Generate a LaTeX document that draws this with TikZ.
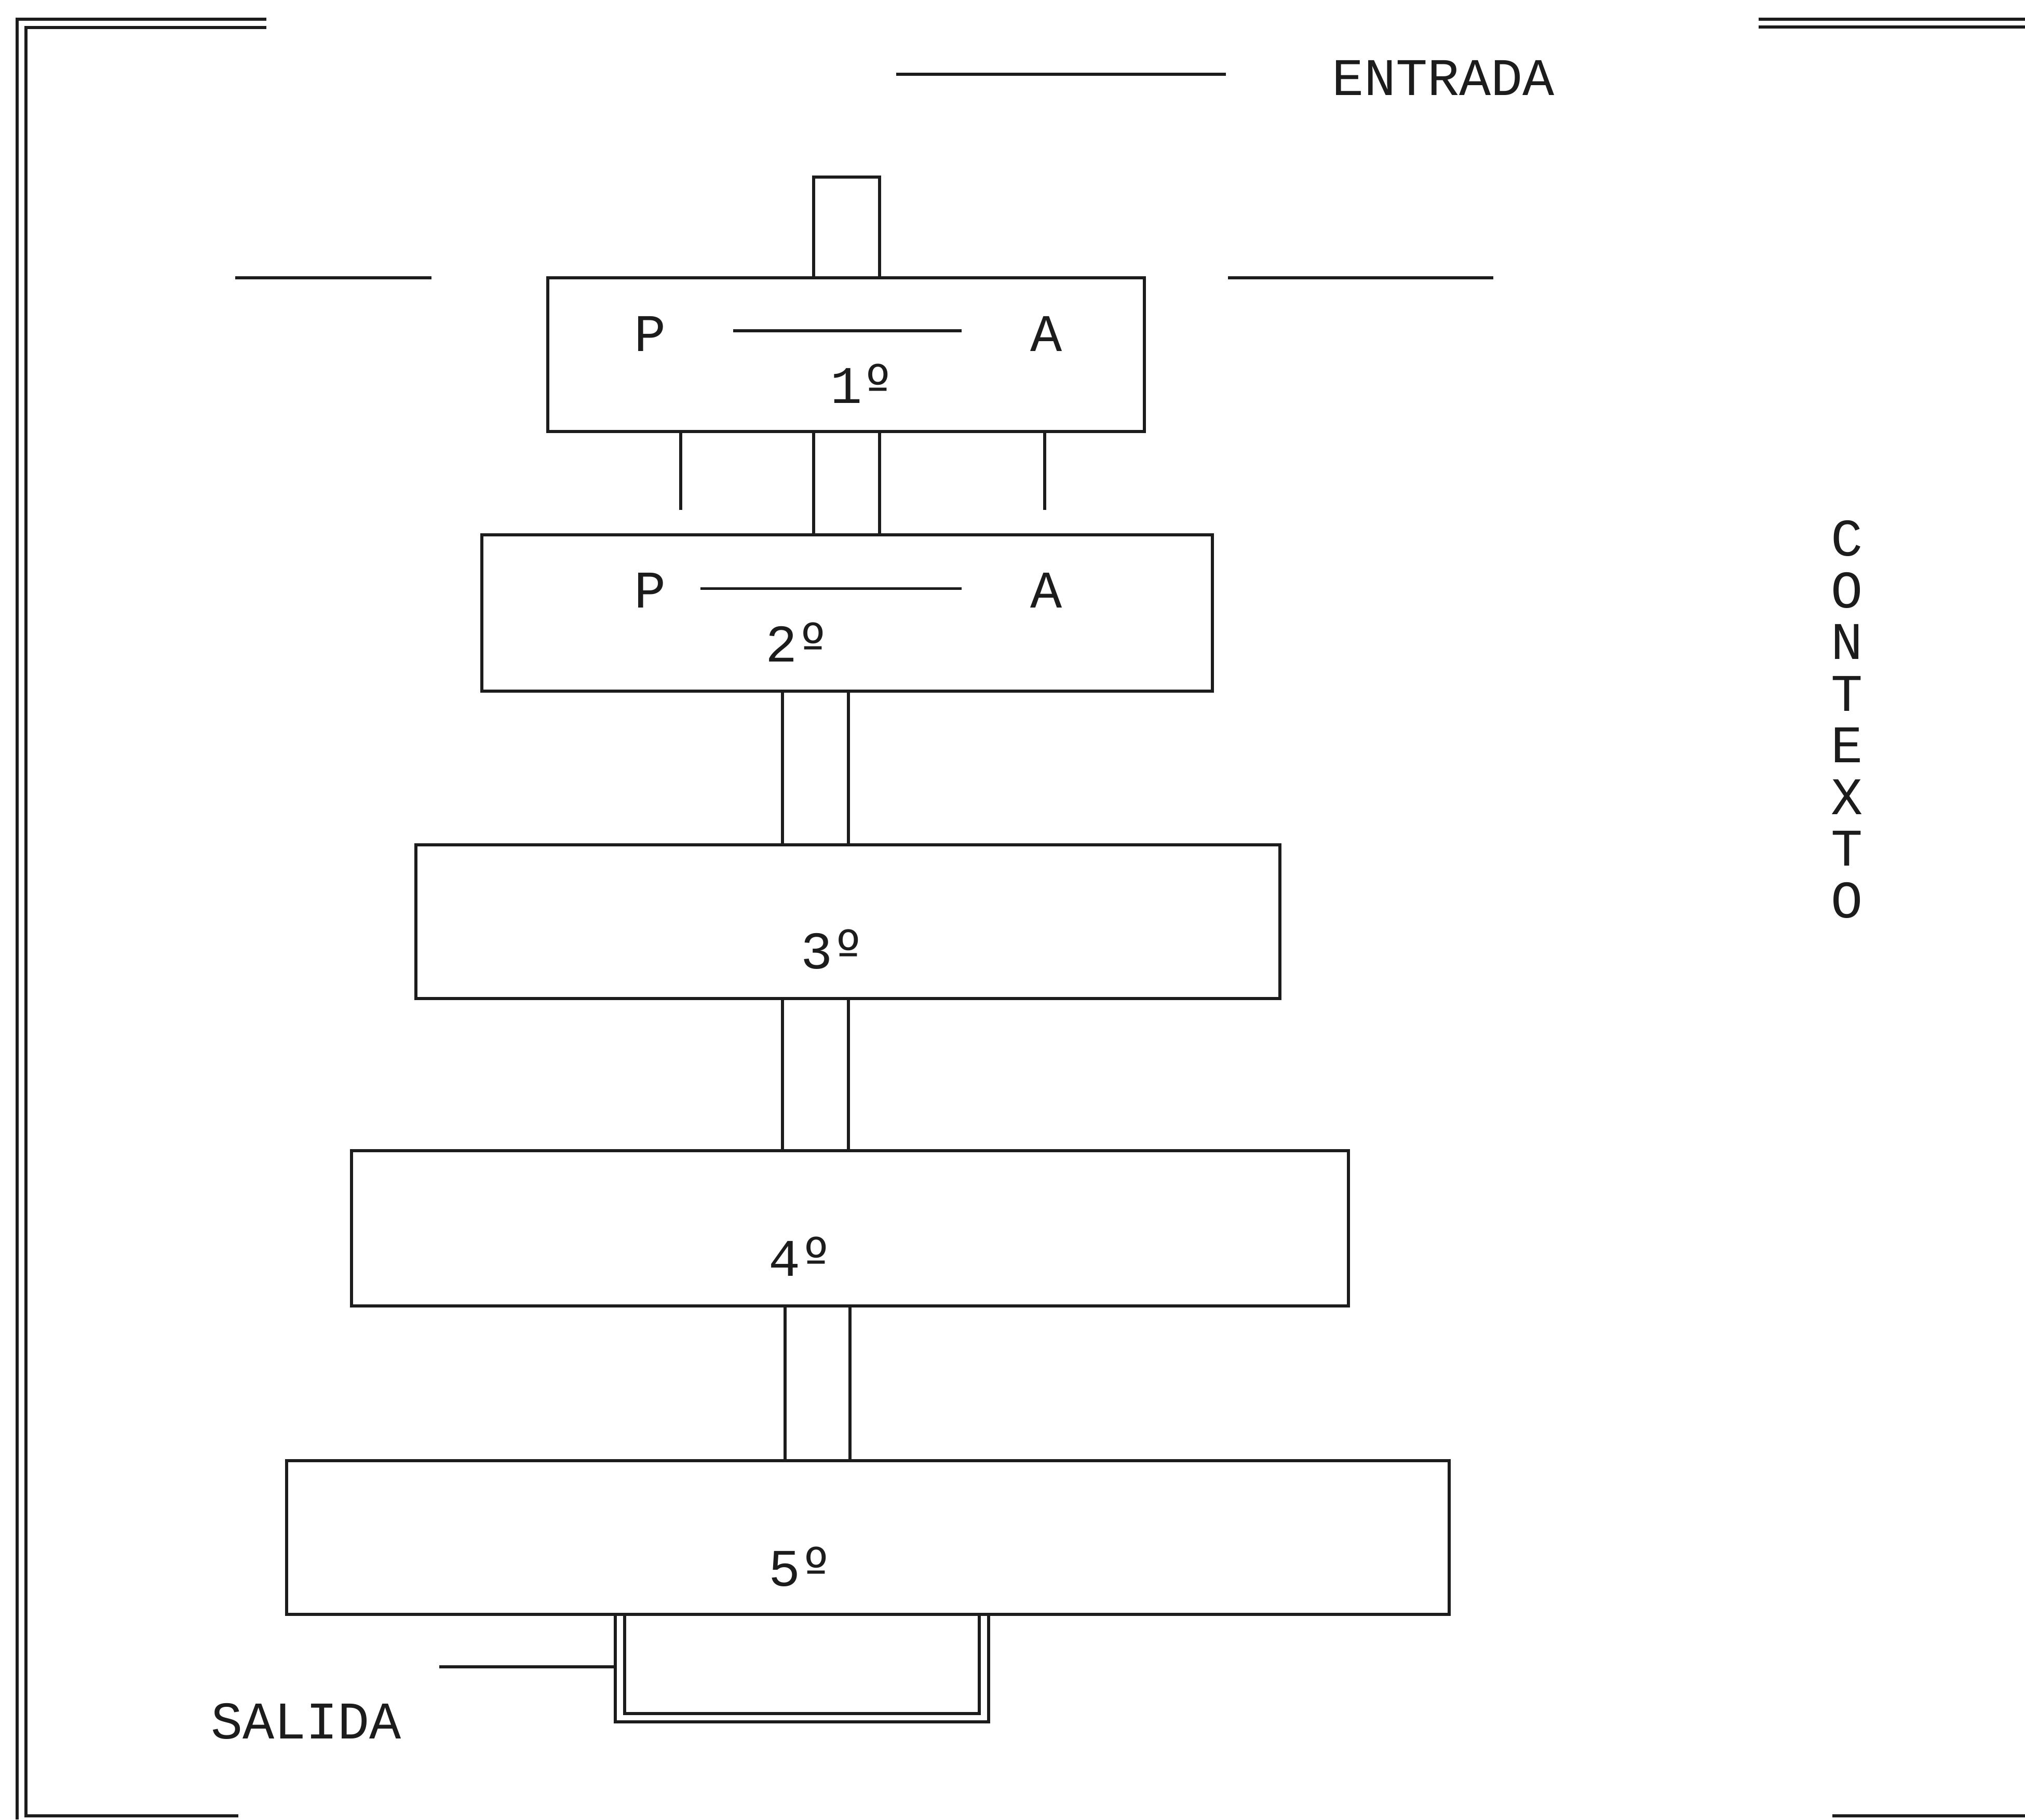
\documentclass[tikz,border=0pt]{standalone}
\usepackage{fontspec}
\setmainfont{Liberation Mono}
\newfontfamily\ordfont{DejaVu Sans Mono}
\usepackage{xcolor}
\usepackage{tikz}
\usetikzlibrary{positioning,calc}
\definecolor{ink}{HTML}{1C1C1C}
\definecolor{paper}{HTML}{FFFFFF}

\tikzset{
  etapa/.style 2 args={draw=ink,line width=1.5pt,minimum width=#1cm,minimum height=#2cm,inner sep=0pt,outer sep=0pt},
  rotulo/.style={text=ink,font=\fontsize{29}{31}\selectfont,inner sep=0pt},
  trazo/.style={draw=ink,line width=1.5pt},
  marco/.style={draw=ink,line width=1.8pt},
}

\begin{document}
\begin{tikzpicture}[x=1cm,y=-1cm]
\useasboundingbox[fill=paper] (0,0) rectangle (39,35.04);

% marco exterior
\draw[marco] (5.13,0.37) -- (0.33,0.37) -- (0.33,35.04);
\draw[marco] (5.13,0.53) -- (0.50,0.53) -- (0.50,34.97) -- (4.59,34.97);
\draw[marco] (33.87,0.37) -- (39,0.37);
\draw[marco] (33.87,0.52) -- (39,0.52);
\draw[marco] (35.29,34.97) -- (39,34.97);

% etapas
\node[etapa={11.49}{2.96}] (e1) at (16.295,6.83) {};
\node[etapa={14.07}{3.01}] (e2) at (16.315,11.805) {};
\node[etapa={16.64}{2.96}] (e3) at (16.33,17.75) {};
\node[etapa={19.20}{2.99}] (e4) at (16.37,23.655) {};
\node[etapa={22.39}{2.96}] (e5) at (16.715,29.61) {};

\node[rotulo] (p1) at (12.52,6.43) {P};
\node[rotulo] (a1) at (20.15,6.43) {A};
\node[rotulo] (n1) at (16.61,7.39) {1{\ordfont º}};
\node[rotulo] (p2) at (12.52,11.37) {P};
\node[rotulo] (a2) at (20.15,11.37) {A};
\node[rotulo] (n2) at (15.36,12.37) {2{\ordfont º}};
\node[rotulo] (n3) at (16.04,18.28) {3{\ordfont º}};
\node[rotulo] (n4) at (15.42,24.20) {4{\ordfont º}};
\node[rotulo] (n5) at (15.42,30.17) {5{\ordfont º}};

\draw[trazo,shorten <=1.29cm,shorten >=1.32cm] ([yshift=1.7pt]p1.east) -- ([yshift=1.7pt]a1.west);
\draw[trazo,shorten <=0.66cm,shorten >=1.32cm] ([yshift=1pt]p2.east) -- ([yshift=1pt]a2.west);

% entrada
\draw[trazo] (e1.north -| 15.67,0) -- (15.67,3.41) -- (16.94,3.41) -- (e1.north -| 16.94,0);
\node[rotulo] (ent) at (27.80,1.50) {ENTRADA};
\coordinate (entl) at (17.26,1.43);
\draw[trazo] (entl) -- (entl -| 23.61,0);
\draw[trazo] (e1.north -| 4.53,0) -- (e1.north -| 8.31,0);
\draw[trazo] (e1.north -| 23.65,0) -- (e1.north -| 28.76,0);

% uniones
\draw[trazo] (e1.south -| 15.67,0) -- (e2.north -| 15.67,0);
\draw[trazo] (e1.south -| 16.94,0) -- (e2.north -| 16.94,0);
\draw[trazo] (e1.south -| 13.11,0) -- (13.11,9.82);
\draw[trazo] (e1.south -| 20.12,0) -- (20.12,9.82);
\draw[trazo] (e2.south -| 15.07,0) -- (e3.north -| 15.07,0);
\draw[trazo] (e2.south -| 16.34,0) -- (e3.north -| 16.34,0);
\draw[trazo] (e3.south -| 15.07,0) -- (e4.north -| 15.07,0);
\draw[trazo] (e3.south -| 16.34,0) -- (e4.north -| 16.34,0);
\draw[trazo] (e4.south -| 15.12,0) -- (e5.north -| 15.12,0);
\draw[trazo] (e4.south -| 16.37,0) -- (e5.north -| 16.37,0);

% salida
\draw[trazo] (e5.south -| 11.85,0) |- (19.04,33.16) -- (e5.south -| 19.04,0);
\draw[trazo] (e5.south -| 12.03,0) |- (18.86,33.00) -- (e5.south -| 18.86,0);
\coordinate (sall) at (8.46,32.10);
\draw[trazo] (sall) -- (sall -| 11.85,0);
\node[rotulo] (sal) at (5.895,33.15) {SALIDA};

% contexto
\foreach \letra [count=\i from 0] in {C,O,N,T,E,X,T,O}
  \node[rotulo] (ctx\i) at (35.57,{10.37+0.995*\i}) {\letra};
\end{tikzpicture}
\end{document}
